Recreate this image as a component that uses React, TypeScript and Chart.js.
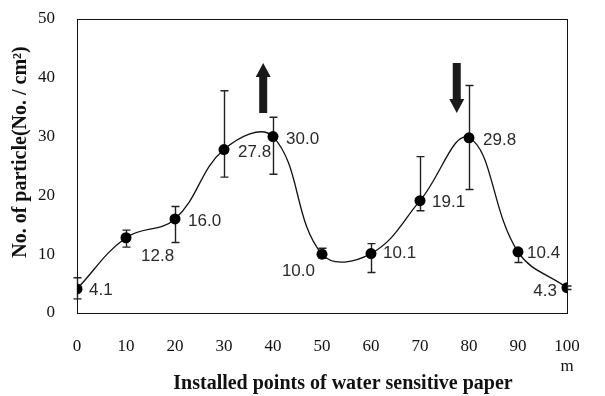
import React, { useEffect, useRef } from 'react';
import { Chart, registerables } from 'chart.js';

Chart.register(...registerables);

// ---- data ----
const positions = [0, 10, 20, 30, 40, 50, 60, 70, 80, 90, 100];
const particles = [4.1, 12.8, 16.0, 27.8, 30.0, 10.0, 10.1, 19.1, 29.8, 10.4, 4.3];
const errUpper = [6.0, 14.1, 18.1, 37.8, 33.3, 11.0, 11.8, 26.6, 38.7, 10.8, 4.6];
const errLower = [2.4, 11.2, 12.0, 23.1, 23.6, 9.3, 6.9, 17.4, 21.0, 8.6, 4.0];
const valueLabels = ['4.1', '12.8', '16.0', '27.8', '30.0', '10.0', '10.1', '19.1', '29.8', '10.4', '4.3'];
const xTickValues = [0, 10, 20, 30, 40, 50, 60, 70, 80, 90, 100];
const yTickValues = [0, 10, 20, 30, 40, 50];
const xUnit = 'm';
const xTitle = 'Installed points of water sensitive paper';
const yTitle = 'No. of particle(No. / cm²)';
// arrows (data coordinates): x position, start value, end value (tip)
const arrowX = [38, 77.5];
const arrowFrom = [34, 42.5];
const arrowTo = [42.5, 34];

// ---- styling of value labels (pixel offsets from point, alignment) ----
const labelStyle: [number, number, CanvasTextAlign][] = [
  [12, 1, 'left'],
  [15, 19, 'left'],
  [13, 2, 'left'],
  [14, 3, 'left'],
  [13, 3, 'left'],
  [-7, 17, 'right'],
  [12, 0, 'left'],
  [12, 2, 'left'],
  [14, 3, 'left'],
  [9, 1, 'left'],
  [-10, 4, 'right'],
];

const SERIF = '"Liberation Serif", "Times New Roman", serif';
const SANS = '"Liberation Sans", Arial, sans-serif';

const decorPlugin = {
  id: 'decor',
  beforeDatasetsDraw(chart: any) {
    const { ctx, chartArea, scales } = chart;
    const x = scales.x;
    const y = scales.y;
    // frame
    ctx.save();
    ctx.strokeStyle = '#111';
    ctx.lineWidth = 1;
    ctx.strokeRect(
      Math.round(chartArea.left) + 0.5,
      Math.round(chartArea.top) + 0.5,
      Math.round(chartArea.right - chartArea.left),
      Math.round(chartArea.bottom - chartArea.top)
    );
    // error bars
    ctx.strokeStyle = '#222';
    ctx.lineWidth = 1.4;
    positions.forEach((p, i) => {
      const px = Math.round(x.getPixelForValue(p)) + 0.5;
      const yt = y.getPixelForValue(errUpper[i]);
      const yb = y.getPixelForValue(errLower[i]);
      ctx.beginPath();
      ctx.moveTo(px, yt);
      ctx.lineTo(px, yb);
      ctx.moveTo(px - 4, yt);
      ctx.lineTo(px + 4, yt);
      ctx.moveTo(px - 4, yb);
      ctx.lineTo(px + 4, yb);
      ctx.stroke();
    });
    ctx.restore();
  },
  afterDatasetsDraw(chart: any) {
    const { ctx, scales } = chart;
    const x = scales.x;
    const y = scales.y;
    ctx.save();
    // value labels
    ctx.font = '17px ' + SANS;
    ctx.fillStyle = '#2a2a2a';
    ctx.textBaseline = 'middle';
    positions.forEach((p, i) => {
      const px = x.getPixelForValue(p);
      const py = y.getPixelForValue(particles[i]);
      const [dx, dy, align] = labelStyle[i];
      ctx.textAlign = align;
      ctx.fillText(valueLabels[i], px + dx, py + dy);
    });
    // arrows
    ctx.fillStyle = '#1a1a1a';
    arrowX.forEach((ax, i) => {
      const cx = x.getPixelForValue(ax);
      const y0 = y.getPixelForValue(arrowFrom[i]);
      const y1 = y.getPixelForValue(arrowTo[i]);
      const dir = y1 < y0 ? -1 : 1;
      const headLen = 14;
      const shaftHalf = 4;
      const headHalf = 7.5;
      const yHeadBase = y1 - dir * headLen;
      ctx.beginPath();
      ctx.moveTo(cx - shaftHalf, y0);
      ctx.lineTo(cx - shaftHalf, yHeadBase);
      ctx.lineTo(cx - headHalf, yHeadBase);
      ctx.lineTo(cx, y1);
      ctx.lineTo(cx + headHalf, yHeadBase);
      ctx.lineTo(cx + shaftHalf, yHeadBase);
      ctx.lineTo(cx + shaftHalf, y0);
      ctx.closePath();
      ctx.fill();
    });
    ctx.restore();
  },
  afterDraw(chart: any) {
    const { ctx } = chart;
    ctx.save();
    ctx.fillStyle = '#111';
    ctx.font = 'bold 20px ' + SERIF;
    ctx.textAlign = 'center';
    ctx.textBaseline = 'middle';
    ctx.fillText(xTitle, 343, 384);
    ctx.translate(21, 152);
    ctx.rotate(-Math.PI / 2);
    ctx.fillText(yTitle, 0, 0);
    ctx.restore();
  },
};

export default function App() {
  const ref = useRef<HTMLCanvasElement | null>(null);
  useEffect(() => {
    if (!ref.current) return;
    const chart = new Chart(ref.current, {
      type: 'line',
      data: {
        datasets: [
          {
            data: positions.map((p, i) => ({ x: p, y: particles[i] })),
            borderColor: '#111',
            borderWidth: 1.3,
            tension: 0.4,
            pointRadius: 5.5,
            pointBackgroundColor: '#000',
            pointBorderColor: '#000',
            pointBorderWidth: 0,
            fill: false,
          },
        ],
      },
      options: {
        responsive: false,
        animation: false,
        events: [],
        layout: { padding: { top: 19, right: 38, left: 0, bottom: 0 } },
        plugins: {
          legend: { display: false },
          tooltip: { enabled: false },
          title: { display: false },
        },
        scales: {
          x: {
            type: 'linear',
            min: 0,
            max: 100,
            afterBuildTicks: (s: any) => {
              s.ticks = xTickValues.map((v) => ({ value: v }));
            },
            afterFit: (s: any) => {
              s.height = 83;
              s.paddingLeft = 0;
              s.paddingRight = 0;
            },
            grid: { display: false },
            border: { display: false },
            ticks: {
              padding: 15,
              color: '#111',
              font: { family: SERIF, size: 17 },
              maxRotation: 0,
              autoSkip: false,
              callback: (v: any) => (v === 100 ? [String(v), xUnit] : String(v)),
            },
          },
          y: {
            type: 'linear',
            min: 0,
            max: 50,
            afterBuildTicks: (s: any) => {
              s.ticks = yTickValues.map((v) => ({ value: v }));
            },
            afterFit: (s: any) => {
              s.width = 77;
              s.paddingTop = 0;
              s.paddingBottom = 0;
            },
            grid: { display: false },
            border: { display: false },
            ticks: {
              padding: 14,
              color: '#111',
              font: { family: SERIF, size: 17 },
            },
          },
        },
      },
      plugins: [decorPlugin],
    });
    return () => chart.destroy();
  }, []);
  return (
    <div style={{ position: 'absolute', left: 0, top: 0, width: 605, height: 396, background: '#fff' }}>
      <canvas ref={ref} width={605} height={396} style={{ display: 'block' }} />
    </div>
  );
}
